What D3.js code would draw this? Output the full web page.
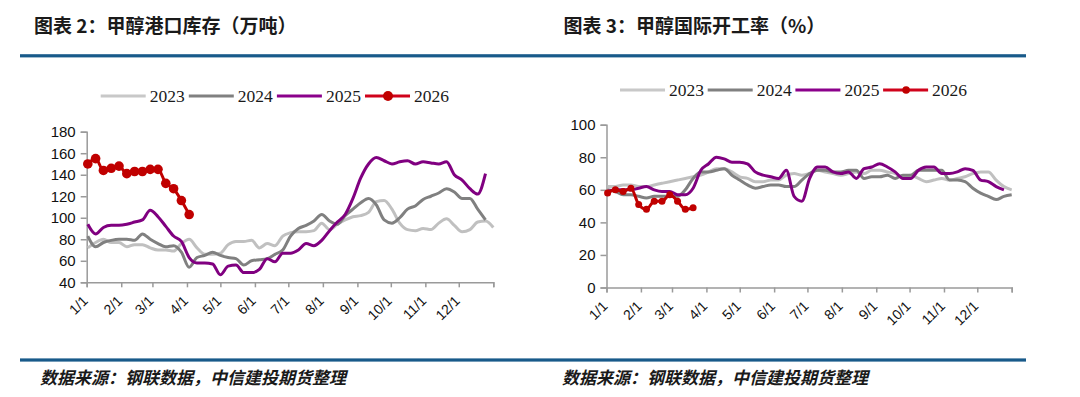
<!DOCTYPE html>
<html>
<head>
<meta charset="utf-8">
<script src="https://cdn.jsdelivr.net/npm/d3@7"></script>
<style>
  body { margin: 0; background: #fff; }
  svg { display: block; }
</style>
</head>
<body>
<div id="chart"></div>
<script>
// month ticks (day of year where each month starts, last one = year end)
const monthLabels = ["1/1", "2/1", "3/1", "4/1", "5/1", "6/1", "7/1", "8/1", "9/1", "10/1", "11/1", "12/1"];
const monthStartDays = [0, 31, 59, 90, 120, 151, 181, 212, 243, 273, 304, 334, 365];
const years = ["2023", "2024", "2025", "2026"];

// 图表2 甲醇港口库存（万吨）, weekly
const stock2023 = [72, 77, 80, 77, 77, 73, 75, 75, 72, 70, 70, 69, 76, 80, 72, 66, 66, 67, 75, 78, 78, 79, 72, 76, 74, 83, 86, 87, 87, 88, 95, 89, 94, 98, 101, 102, 105, 115, 116, 108, 95, 89, 88, 90, 89, 95, 99, 93, 87, 89, 96, 97, 91];
const stock2024 = [83, 73, 77, 79, 80, 80, 79, 85, 80, 76, 73, 74, 68, 54, 63, 65, 68, 65, 63, 62, 56, 60, 61, 62, 66, 70, 83, 90, 93, 97, 103, 97, 94, 102, 108, 114, 118, 112, 98, 95, 100, 108, 111, 117, 120, 123, 127, 124, 118, 118, 108, 98];
const stock2025 = [94, 85, 91, 93, 93, 94, 96, 98, 107, 101, 92, 83, 78, 63, 58, 58, 57, 47, 55, 56, 49, 49, 52, 62, 59, 67, 67, 70, 76, 74, 79, 88, 96, 103, 118, 137, 150, 156, 153, 150, 152, 153, 150, 152, 151, 150, 152, 140, 135, 127, 122, 141];
const stock2026 = [150, 155, 144, 146, 148, 141, 143, 143, 145, 145, 132, 127, 116, 103];
const stockTicks = [40, 60, 80, 100, 120, 140, 160, 180];

// 图表3 甲醇国际开工率（%）, weekly
const rate2023 = [62, 62, 63, 63, 62, 62, 63, 64, 65, 66, 67, 68, 69, 71, 73, 73, 71, 68, 67, 65, 65, 66, 66, 69, 70, 69, 70, 72, 71, 70, 69, 70, 71, 70, 72, 72, 71, 70, 68, 69, 67, 65, 66, 67, 66, 67, 68, 70, 71, 71, 66, 62, 60];
const rate2024 = [60, 59, 57, 57, 56, 55, 56, 56, 56, 56, 60, 67, 71, 71, 72, 73, 69, 66, 63, 61, 62, 63, 63, 62, 62, 66, 70, 72, 72, 71, 71, 72, 72, 67, 68, 68, 69, 67, 69, 69, 72, 72, 72, 72, 66, 66, 65, 61, 58, 56, 54, 56, 57];
const rate2025 = [59, 60, 60, 60, 61, 62, 60, 59, 59, 57, 57, 61, 72, 76, 80, 79, 77, 77, 76, 71, 69, 68, 67, 72, 56, 53, 67, 74, 74, 71, 70, 71, 67, 73, 74, 76, 74, 71, 67, 67, 72, 74, 74, 70, 70, 71, 73, 72, 66, 65, 62, 60];
const rate2026 = [58, 60, 59, 61, 51, 48, 53, 53, 57, 53, 48, 49];
const rateTicks = [0, 20, 40, 60, 80, 100];

const colors = ["#c0c0c0", "#808080", "#800080", "#c00000"];
const legendColors = ["#c8c8c8", "#808080", "#8b008b", "#d0021b"];
const axisColor = "#9a9a9a";
const ruleColor = "#185a8a";

const W = 1080, H = 397;
const svg = d3.select("#chart").append("svg").attr("width", W).attr("height", H);

// blue rules across both panels
svg.append("rect").attr("x", 20).attr("y", 54.2).attr("width", 1006).attr("height", 3.2).attr("fill", ruleColor);
svg.append("rect").attr("x", 20).attr("y", 358.4).attr("width", 1006).attr("height", 3.2).attr("fill", ruleColor);

function drawPanel(opt) {
  const g = svg.append("g");

  g.append("text")
    .attr("x", opt.titleX).attr("y", 33)
    .attr("font-family", "'Noto Sans CJK SC', sans-serif")
    .attr("font-weight", "bold").attr("font-size", 19).attr("fill", "#1a1a1a")
    .text(opt.title);

  g.append("text")
    .attr("x", opt.srcX).attr("y", 384)
    .attr("font-family", "'Noto Sans CJK SC', sans-serif")
    .attr("font-weight", "bold").attr("font-style", "italic")
    .attr("font-size", 17).attr("fill", "#1a1a1a")
    .text("数据来源：钢联数据，中信建投期货整理");

  // legend
  const leg = g.append("g").attr("transform", `translate(${opt.legX},${opt.legY})`);
  years.forEach((yr, i) => {
    const lx = i * opt.legStep;
    leg.append("line").attr("x1", lx).attr("x2", lx + 45).attr("y1", 0).attr("y2", 0)
      .attr("stroke", legendColors[i]).attr("stroke-width", 3);
    if (i === 3) {
      leg.append("circle").attr("cx", lx + 23).attr("cy", 0).attr("r", opt.legR).attr("fill", colors[i]);
    }
    leg.append("text").attr("x", lx + 49).attr("y", 6)
      .attr("font-family", "'Liberation Serif', 'Times New Roman', serif")
      .attr("font-size", 17.5).attr("fill", "#1a1a1a")
      .text(yr);
  });

  const x = d3.scaleLinear().domain([0, 365]).range(opt.xRange);
  const y = d3.scaleLinear().domain(opt.yDomain).range(opt.yRange);

  const yAxis = g.append("g")
    .attr("transform", `translate(${opt.xRange[0]},0)`)
    .call(d3.axisLeft(y).tickValues(opt.yTicks).tickSize(6).tickPadding(5));
  yAxis.selectAll("text")
    .attr("font-family", "'Liberation Sans', Arial, sans-serif")
    .attr("font-size", 15).attr("fill", "#111");

  const xAxis = g.append("g")
    .attr("transform", `translate(0,${opt.yRange[0]})`)
    .call(d3.axisBottom(x).tickValues(monthStartDays).tickSize(5)
      .tickFormat((d, i) => monthLabels[i] || ""));
  xAxis.selectAll("text")
    .attr("font-family", "'Liberation Sans', Arial, sans-serif")
    .attr("font-size", 14).attr("fill", "#111")
    .attr("text-anchor", "end")
    .attr("transform", "translate(-2,16) rotate(-45)")
    .attr("dy", "0.35em").attr("y", 0).attr("x", 0);

  [xAxis, yAxis].forEach(a => {
    a.select(".domain").attr("stroke", axisColor).attr("stroke-width", 1.5);
    a.selectAll(".tick line").attr("stroke", axisColor).attr("stroke-width", 1.5);
  });

  const line = d3.line()
    .x((d, i) => x(1 + 7 * i))
    .y(d => y(d))
    .curve(d3.curveMonotoneX);

  opt.series.forEach((s, i) => {
    g.append("path").datum(s)
      .attr("fill", "none").attr("stroke", colors[i])
      .attr("stroke-width", 3).attr("stroke-linejoin", "round")
      .attr("d", line);
  });

  g.append("g").selectAll("circle")
    .data(opt.series[3]).join("circle")
    .attr("cx", (d, i) => x(1 + 7 * i))
    .attr("cy", d => y(d))
    .attr("r", opt.dotR)
    .attr("fill", colors[3]);
}

drawPanel({
  title: "图表 2：甲醇港口库存（万吨）",
  titleX: 34, srcX: 40,
  legX: 100.7, legY: 96, legStep: 88.1, legR: 5,
  xRange: [86.7, 493.3],
  yDomain: [40, 180], yRange: [282.3, 131.7],
  yTicks: stockTicks,
  series: [stock2023, stock2024, stock2025, stock2026],
  dotR: 4.8
});

drawPanel({
  title: "图表 3：甲醇国际开工率（%）",
  titleX: 563.5, srcX: 562,
  legX: 620, legY: 90, legStep: 87.7, legR: 3.8,
  xRange: [606.5, 1011.7],
  yDomain: [0, 100], yRange: [287.5, 124.7],
  yTicks: rateTicks,
  series: [rate2023, rate2024, rate2025, rate2026],
  dotR: 3.5
});
</script>
</body>
</html>
